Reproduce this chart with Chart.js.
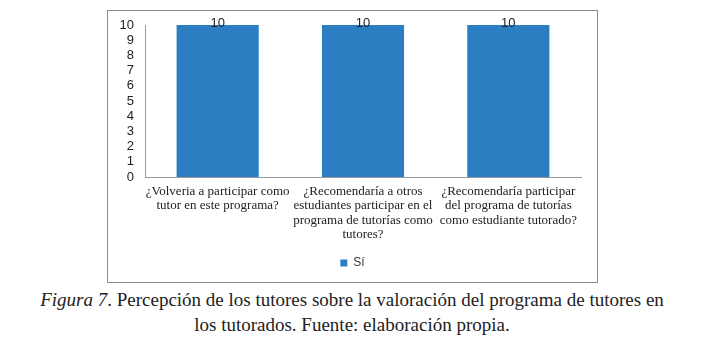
<!DOCTYPE html>
<html>
<head>
<meta charset="utf-8">
<script src="https://cdn.jsdelivr.net/npm/chart.js@4.4.1/dist/chart.umd.min.js"></script>
<style>
  html, body { margin: 0; padding: 0; background: #fff; }
  body { width: 704px; height: 347px; position: relative; overflow: hidden; }
  #frame { position: absolute; left: 107px; top: 10px; width: 489px; height: 271px; border: 1px solid #8c8c8c; }
  #frame canvas { display: block; }
  #caption { position: absolute; left: 0; top: 287px; width: 704px; text-align: center;
    font-family: 'Liberation Serif', serif; font-size: 19px; line-height: 25px; color: #222; }
  #caption i { font-style: italic; }
</style>
</head>
<body>
<div id="frame"><canvas id="c" width="489" height="271"></canvas></div>
<div id="caption"><i>Figura 7</i>. Percepción de los tutores sobre la valoración del programa de tutores en<br>los tutorados. Fuente: elaboración propia.</div>
<script>
const categories = [
  ["¿Volveria a participar como", "tutor en este programa?"],
  ["¿Recomendaría a otros", "estudiantes participar en el", "programa de tutorías como", "tutores?"],
  ["¿Recomendaría participar", "del programa de tutorías", "como estudiante tutorado?"]
];
const seriesName = "Sí";
const siValues = [10, 10, 10];
const yTicks = [0, 1, 2, 3, 4, 5, 6, 7, 8, 9, 10];

const barLabels = {
  id: 'barLabels',
  afterDatasetsDraw(chart) {
    const ctx = chart.ctx;
    const meta = chart.getDatasetMeta(0);
    ctx.save();
    ctx.font = '13px "Liberation Sans", Arial, sans-serif';
    ctx.fillStyle = '#222';
    ctx.textAlign = 'center';
    ctx.textBaseline = 'alphabetic';
    meta.data.forEach((bar, i) => {
      ctx.fillText(String(chart.data.datasets[0].data[i]), bar.x, bar.y + 2);
    });
    ctx.restore();
  }
};

const centerLegend = {
  id: 'centerLegend',
  afterLayout(chart) {
    if (chart.legend) {
      chart.legend.left = 0;
      chart.legend.right = chart.width;
    }
  }
};

new Chart(document.getElementById('c'), {
  type: 'bar',
  data: {
    labels: categories,
    datasets: [{
      label: seriesName,
      data: siValues,
      backgroundColor: '#2B7EC2',
      borderWidth: 0,
      categoryPercentage: 1,
      barPercentage: 0.565
    }]
  },
  options: {
    responsive: false,
    animation: false,
    layout: { padding: { left: 0, right: 16, top: 14, bottom: 3 } },
    plugins: {
      tooltip: { enabled: false },
      legend: {
        position: 'bottom',
        labels: {
          boxWidth: 7, boxHeight: 7, padding: 6,
          color: '#333',
          font: { family: "'Liberation Sans', Arial, sans-serif", size: 12 }
        }
      }
    },
    scales: {
      x: {
        grid: { display: false, drawTicks: false },
        border: { display: true, color: '#9a9a9a', width: 1 },
        ticks: {
          color: '#222', maxRotation: 0, autoSkip: false, padding: 8,
          font: { family: "'Liberation Serif', 'Times New Roman', serif", size: 13, lineHeight: 1.08 }
        },
        afterFit(axis) { axis.height = 74; }
      },
      y: {
        min: 0, max: 10,
        afterBuildTicks(axis) { axis.ticks = yTicks.map(v => ({ value: v })); },
        grid: { display: false, drawTicks: false },
        border: { display: true, color: '#9a9a9a', width: 1 },
        ticks: {
          color: '#222', padding: 11, autoSkip: false,
          font: { family: "'Liberation Sans', Arial, sans-serif", size: 13, lineHeight: 1 }
        },
        afterFit(axis) { axis.width = 37; axis.paddingTop = 0; axis.paddingBottom = 0; }
      }
    }
  },
  plugins: [barLabels, centerLegend]
});
</script>
</body>
</html>
